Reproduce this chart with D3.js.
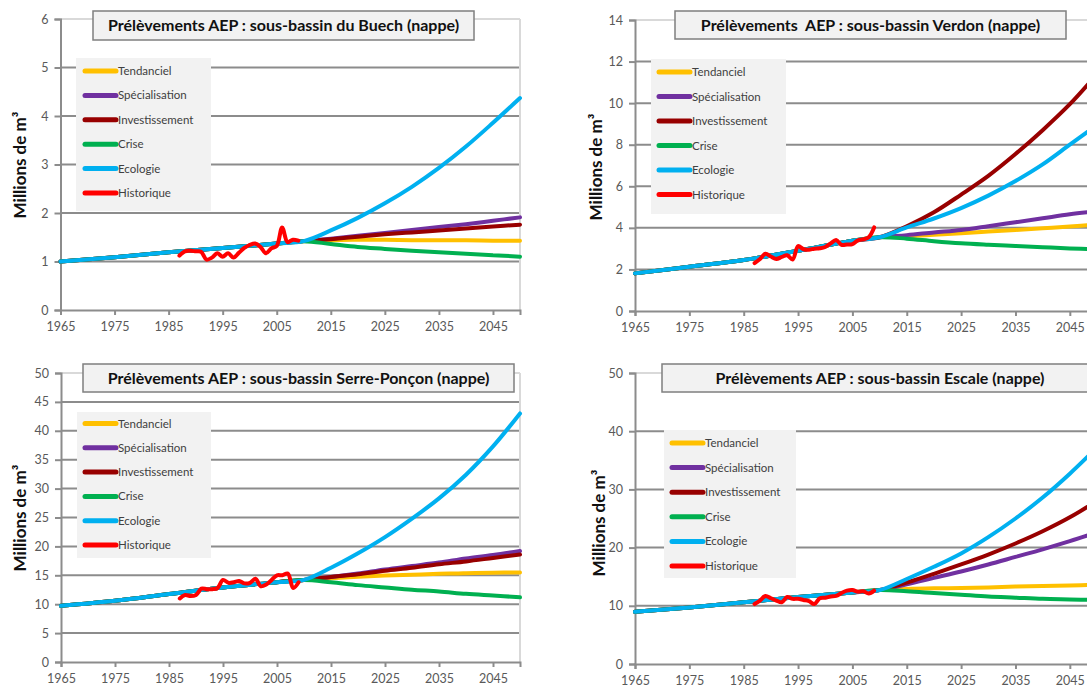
<!DOCTYPE html>
<html>
<head>
<meta charset="utf-8">
<script src="https://cdn.jsdelivr.net/npm/d3@7"></script>
<style>
  body { margin: 0; background: #fff; }
  svg { display: block; font-family: Lato, "Open Sans", sans-serif; }
</style>
</head>
<body>
<div id="chart"></div>
<script>
// Data
const years = [1965, 1975, 1985, 1995, 2005, 2010, 2015, 2020, 2025, 2030, 2035, 2040, 2045, 2050];
const histYears = [1987, 1988, 1989, 1990, 1991, 1992, 1993, 1994, 1995, 1996, 1997, 1998,
  1999, 2000, 2001, 2002, 2003, 2004, 2005, 2006, 2007, 2008, 2009];
const xTicks = [1965, 1975, 1985, 1995, 2005, 2015, 2025, 2035, 2045];
const scenarios = ["Tendanciel", "Spécialisation", "Investissement", "Crise", "Ecologie", "Historique"];
const colors = ["#ffc000", "#7030a0", "#980000", "#00b050", "#00b0f0", "#ff0000"];

// sous-bassin du Buech
const buechTicks = [0, 1, 2, 3, 4, 5, 6];
const buechTendanciel = [1.0, 1.09, 1.19, 1.28, 1.37, 1.42, 1.44, 1.45, 1.45, 1.44, 1.44, 1.44, 1.43, 1.43];
const buechSpecialisation = [1.0, 1.09, 1.19, 1.28, 1.37, 1.42, 1.47, 1.53, 1.59, 1.65, 1.71, 1.77, 1.84, 1.91];
const buechInvestissement = [1.0, 1.09, 1.19, 1.28, 1.37, 1.42, 1.46, 1.51, 1.56, 1.60, 1.64, 1.68, 1.72, 1.76];
const buechCrise = [1.0, 1.09, 1.19, 1.28, 1.37, 1.42, 1.36, 1.30, 1.26, 1.22, 1.19, 1.16, 1.13, 1.10];
const buechEcologie = [1.0, 1.09, 1.19, 1.28, 1.37, 1.42, 1.64, 1.90, 2.20, 2.54, 2.93, 3.37, 3.86, 4.37];
const buechHistorique = [1.12, 1.21, 1.22, 1.21, 1.20, 1.04, 1.08, 1.17, 1.10, 1.17, 1.08, 1.18,
  1.28, 1.34, 1.37, 1.30, 1.17, 1.27, 1.32, 1.70, 1.40, 1.45, 1.43];

// sous-bassin Verdon
const verdonTicks = [0, 2, 4, 6, 8, 10, 12, 14];
const verdonTendanciel = [1.81, 2.13, 2.45, 2.90, 3.38, 3.55, 3.60, 3.67, 3.74, 3.82, 3.90, 3.98, 4.06, 4.16];
const verdonSpecialisation = [1.81, 2.13, 2.45, 2.90, 3.38, 3.55, 3.65, 3.78, 3.90, 4.08, 4.27, 4.46, 4.65, 4.80];
const verdonInvestissement = [1.81, 2.13, 2.45, 2.90, 3.38, 3.55, 4.08, 4.75, 5.60, 6.50, 7.55, 8.70, 9.95, 11.4];
const verdonCrise = [1.81, 2.13, 2.45, 2.90, 3.38, 3.55, 3.48, 3.36, 3.26, 3.19, 3.13, 3.07, 3.01, 2.97];
const verdonEcologie = [1.81, 2.13, 2.45, 2.90, 3.38, 3.55, 4.02, 4.45, 4.95, 5.55, 6.25, 7.05, 8.00, 8.95];
const verdonHistorique = [2.30, 2.50, 2.75, 2.62, 2.50, 2.60, 2.68, 2.48, 3.12, 2.97, 2.95, 3.00,
  3.02, 3.08, 3.25, 3.42, 3.18, 3.20, 3.22, 3.40, 3.45, 3.55, 4.02];

// sous-bassin Serre-Ponçon
const serreTicks = [0, 5, 10, 15, 20, 25, 30, 35, 40, 45, 50];
const serreTendanciel = [9.73, 10.6, 11.76, 12.9, 13.8, 14.2, 14.5, 14.75, 14.95, 15.1, 15.25, 15.35, 15.45, 15.5];
const serreSpecialisation = [9.73, 10.6, 11.76, 12.9, 13.8, 14.2, 14.7, 15.3, 16.0, 16.6, 17.2, 17.9, 18.5, 19.2];
const serreInvestissement = [9.73, 10.6, 11.76, 12.9, 13.8, 14.2, 14.7, 15.2, 15.8, 16.3, 16.9, 17.4, 18.0, 18.6];
const serreCrise = [9.73, 10.6, 11.76, 12.9, 13.8, 14.2, 13.8, 13.3, 12.9, 12.5, 12.2, 11.8, 11.5, 11.2];
const serreEcologie = [9.73, 10.6, 11.76, 12.9, 13.8, 14.2, 16.3, 18.8, 21.6, 24.8, 28.3, 32.4, 37.3, 43.0];
const serreHistorique = [11.0, 11.6, 11.4, 11.6, 12.7, 12.6, 12.6, 12.8, 14.2, 13.7, 13.8, 14.0,
  13.6, 13.7, 14.4, 13.1, 13.4, 14.2, 15.0, 15.0, 15.3, 12.8, 13.8];

// sous-bassin Escale
const escaleTicks = [0, 10, 20, 30, 40, 50];
const escaleTendanciel = [8.97, 9.7, 10.6, 11.5, 12.3, 12.7, 12.9, 13.0, 13.05, 13.15, 13.3, 13.4, 13.5, 13.6];
const escaleSpecialisation = [8.97, 9.7, 10.6, 11.5, 12.3, 12.7, 13.7, 14.8, 15.9, 17.1, 18.4, 19.7, 21.1, 22.6];
const escaleInvestissement = [8.97, 9.7, 10.6, 11.5, 12.3, 12.7, 14.0, 15.5, 17.1, 18.8, 20.7, 22.8, 25.2, 28.0];
const escaleCrise = [8.97, 9.7, 10.6, 11.5, 12.3, 12.7, 12.5, 12.2, 11.9, 11.6, 11.4, 11.2, 11.1, 11.0];
const escaleEcologie = [8.97, 9.7, 10.6, 11.5, 12.3, 12.7, 14.6, 16.7, 19.0, 21.8, 25.0, 28.6, 32.7, 37.2];
const escaleHistorique = [10.3, 10.9, 11.7, 11.3, 10.9, 10.6, 11.5, 11.2, 11.2, 11.0, 10.8, 10.3,
  11.3, 11.4, 11.6, 11.7, 12.2, 12.6, 12.7, 12.4, 12.5, 12.1, 12.6];

// Layout of the four panels
const panels = [
  {
    title: "Prélèvements AEP : sous-bassin du Buech (nappe)",
    ticks: buechTicks,
    series: [buechTendanciel, buechSpecialisation, buechInvestissement, buechCrise, buechEcologie],
    hist: buechHistorique,
    x0: 60.5, x1: 520, yTop: 19, yBottom: 310,
    titleBox: [93, 11, 381, 29],
    legendBox: [76, 58, 135, 153],
    legendX: 85, legendY: 71, legendStep: 24.4,
    axisTitle: [20, 165],
  },
  {
    title: "Prélèvements  AEP : sous-bassin Verdon (nappe)",
    ticks: verdonTicks,
    series: [verdonTendanciel, verdonSpecialisation, verdonInvestissement, verdonCrise, verdonEcologie],
    hist: verdonHistorique,
    x0: 635, x1: 1097, yTop: 20, yBottom: 311,
    titleBox: [675, 11, 391, 28],
    legendBox: [651, 59, 135, 155],
    legendX: 659, legendY: 72, legendStep: 24.5,
    axisTitle: [596, 167],
  },
  {
    title: "Prélèvements AEP : sous-bassin Serre-Ponçon (nappe)",
    ticks: serreTicks,
    series: [serreTendanciel, serreSpecialisation, serreInvestissement, serreCrise, serreEcologie],
    hist: serreHistorique,
    x0: 61, x1: 520, yTop: 373, yBottom: 662,
    titleBox: [83, 364, 431, 28],
    legendBox: [77, 412, 134, 146],
    legendX: 85, legendY: 423.5, legendStep: 24.3,
    axisTitle: [20, 518],
  },
  {
    title: "Prélèvements AEP : sous-bassin Escale (nappe)",
    ticks: escaleTicks,
    series: [escaleTendanciel, escaleSpecialisation, escaleInvestissement, escaleCrise, escaleEcologie],
    hist: escaleHistorique,
    x0: 635, x1: 1097, yTop: 373, yBottom: 664,
    titleBox: [662, 364, 436, 28],
    legendBox: [664, 430, 132, 148],
    legendX: 672, legendY: 443, legendStep: 24.6,
    axisTitle: [599, 523],
  },
];

const width = 1087;
const height = 693;

const svg = d3
  .select("#chart")
  .append("svg")
  .attr("width", width)
  .attr("height", height);

panels.forEach((p) => {
  const g = svg.append("g");

  const xScale = d3.scaleLinear().domain([1965, 2050]).range([p.x0, p.x1]);
  const yScale = d3
    .scaleLinear()
    .domain([0, d3.max(p.ticks)])
    .range([p.yBottom, p.yTop]);

  // Gridlines (top one and right border are lighter)
  const top = d3.max(p.ticks);
  g.selectAll(".grid")
    .data(p.ticks.filter((t) => t > 0))
    .join("line")
    .attr("x1", p.x0)
    .attr("x2", p.x1)
    .attr("y1", (d) => yScale(d))
    .attr("y2", (d) => yScale(d))
    .attr("stroke", (d) => (d === top ? "#d9d9d9" : "#8c8c8c"))
    .attr("stroke-width", 2);

  g.append("line")
    .attr("x1", p.x1)
    .attr("x2", p.x1)
    .attr("y1", p.yTop)
    .attr("y2", p.yBottom)
    .attr("stroke", "#d9d9d9")
    .attr("stroke-width", 2);

  // Axes
  const yAxis = d3
    .axisLeft(yScale)
    .tickValues(p.ticks)
    .tickFormat(d3.format("d"))
    .tickSize(6)
    .tickPadding(6);
  const yG = g.append("g").attr("transform", `translate(${p.x0},0)`).call(yAxis);

  const xAxis = d3
    .axisBottom(xScale)
    .tickValues(xTicks)
    .tickFormat(d3.format("d"))
    .tickSize(5)
    .tickPadding(7);
  const xG = g.append("g").attr("transform", `translate(0,${p.yBottom})`).call(xAxis);

  [yG, xG].forEach((a) => {
    a.select(".domain").attr("stroke", "#8c8c8c").attr("stroke-width", 2);
    a.selectAll(".tick line").attr("stroke", "#8c8c8c").attr("stroke-width", 2);
    a.selectAll(".tick text")
      .attr("fill", "#595959")
      .style("font-family", "Lato, 'Open Sans', sans-serif")
      .style("font-size", "12.5px");
  });

  // Axis title
  g.append("text")
    .attr("transform", `translate(${p.axisTitle[0]},${p.axisTitle[1]}) rotate(-90)`)
    .attr("text-anchor", "middle")
    .attr("dy", "0.35em")
    .style("font-size", "17px")
    .style("font-weight", "bold")
    .attr("fill", "#111")
    .text("Millions de m³");

  // Lines
  const lineGenerator = d3
    .line()
    .x((d) => xScale(d[0]))
    .y((d) => yScale(d[1]))
    .curve(d3.curveCatmullRom.alpha(0.5));

  p.series.forEach((values, i) => {
    g.append("path")
      .datum(years.map((y, j) => [y, values[j]]))
      .attr("d", lineGenerator)
      .attr("fill", "none")
      .attr("stroke", colors[i])
      .attr("stroke-width", 4)
      .attr("stroke-linecap", "round");
  });

  g.append("path")
    .datum(histYears.map((y, j) => [y, p.hist[j]]))
    .attr("d", lineGenerator)
    .attr("fill", "none")
    .attr("stroke", colors[5])
    .attr("stroke-width", 4)
    .attr("stroke-linejoin", "round")
    .attr("stroke-linecap", "round");

  // Title box
  const [tx, ty, tw, th] = p.titleBox;
  g.append("rect")
    .attr("x", tx)
    .attr("y", ty)
    .attr("width", tw)
    .attr("height", th)
    .attr("fill", "#f2f2f2")
    .attr("stroke", "#7f7f7f")
    .attr("stroke-width", 1.5);

  g.append("text")
    .attr("x", tx + tw / 2)
    .attr("y", ty + th / 2)
    .attr("dy", "0.35em")
    .attr("text-anchor", "middle")
    .style("font-size", "16px")
    .style("font-weight", "bold")
    .style("white-space", "pre")
    .attr("fill", "#111")
    .text(p.title);

  // Legend
  const [lx, ly, lw, lh] = p.legendBox;
  g.append("rect")
    .attr("x", lx)
    .attr("y", ly)
    .attr("width", lw)
    .attr("height", lh)
    .attr("fill", "#f2f2f2");

  const items = g
    .selectAll(".legend-item")
    .data(scenarios)
    .join("g")
    .attr("transform", (d, i) => `translate(${p.legendX},${p.legendY + i * p.legendStep})`);

  items
    .append("line")
    .attr("x1", 0)
    .attr("x2", 31)
    .attr("stroke", (d, i) => colors[i])
    .attr("stroke-width", 5)
    .attr("stroke-linecap", "round");

  items
    .append("text")
    .attr("x", 33)
    .attr("dy", "0.35em")
    .style("font-size", "11.5px")
    .attr("fill", "#404040")
    .text((d) => d);
});
</script>
</body>
</html>
